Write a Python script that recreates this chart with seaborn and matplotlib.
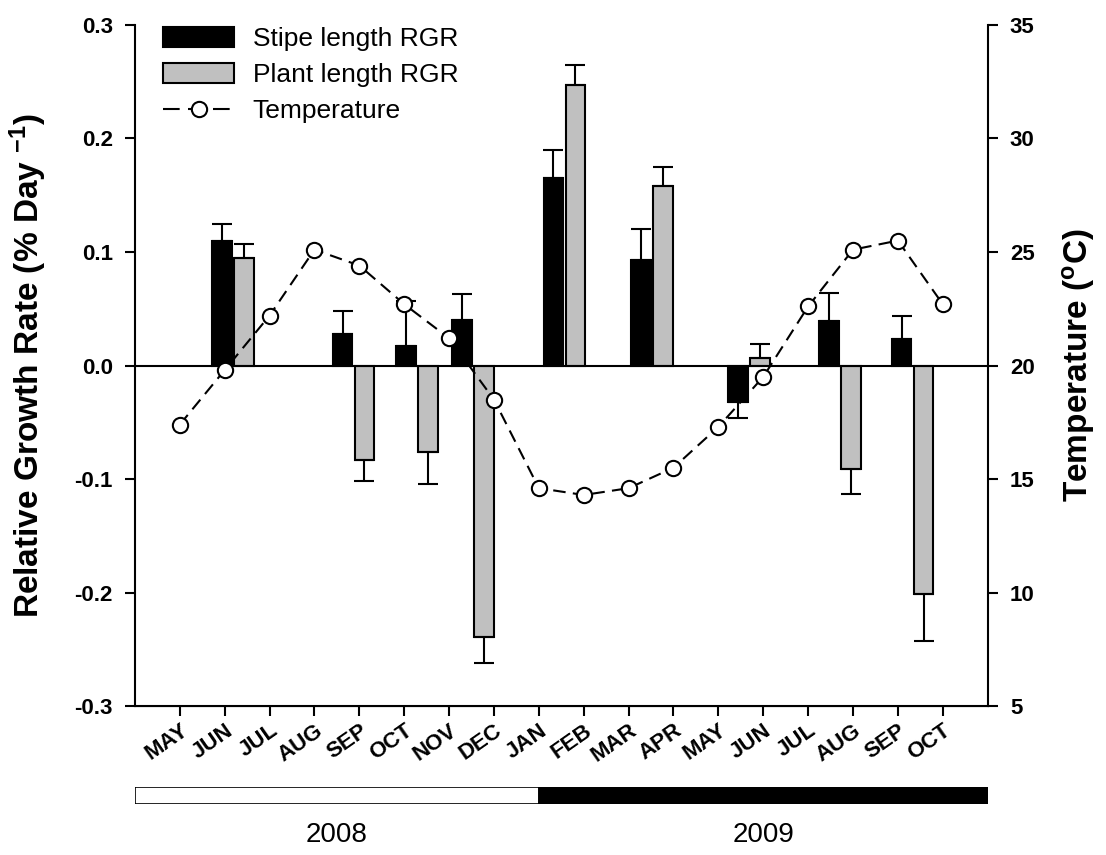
import numpy as np
import pandas as pd
import matplotlib.pyplot as plt
from matplotlib.patches import Patch
from matplotlib.lines import Line2D
import seaborn as sns

months = ['MAY', 'JUN', 'JUL', 'AUG', 'SEP', 'OCT', 'NOV', 'DEC', 'JAN',
          'FEB', 'MAR', 'APR', 'MAY', 'JUN', 'JUL', 'AUG', 'SEP', 'OCT']
temperature = [17.4, 19.8, 22.2, 25.1, 24.4, 22.7, 21.2, 18.5, 14.6,
               14.3, 14.6, 15.5, 17.3, 19.5, 22.6, 25.1, 25.5, 22.7]

# sampling dates, in months after the start of May 2008
sample_month = [1.19, 3.87, 5.29, 6.53, 8.57, 10.52, 12.68, 14.71, 16.33]
stipe_rgr = [0.110, 0.028, 0.017, 0.040, 0.165, 0.093, -0.032, 0.039, 0.023]
stipe_se = [0.015, 0.020, 0.040, 0.023, 0.025, 0.027, 0.014, 0.025, 0.021]
plant_rgr = [0.095, -0.083, -0.076, -0.239, 0.247, 0.158, 0.007, -0.091, -0.201]
plant_se = [0.012, 0.019, 0.028, 0.023, 0.018, 0.017, 0.012, 0.022, 0.042]

years = ['2008', '2009']
series = ['Stipe length RGR', 'Plant length RGR']
colors = ['black', '#c0c0c0']

df = pd.DataFrame({
    'month': sample_month * 2,
    'rgr': stipe_rgr + plant_rgr,
    'series': [series[0]] * len(stipe_rgr) + [series[1]] * len(plant_rgr),
})
temp = pd.DataFrame({'idx': np.arange(len(months)), 'temp': temperature})

sns.set_style('ticks')
plt.rcParams['font.family'] = ['Liberation Sans', 'DejaVu Sans']
plt.rcParams['axes.unicode_minus'] = False
plt.rcParams['mathtext.default'] = 'regular'
for k in ['text.color', 'axes.labelcolor', 'xtick.color', 'ytick.color',
          'axes.edgecolor']:
    plt.rcParams[k] = 'black'

fig = plt.figure(figsize=(11.06, 8.55), dpi=100)
ax = fig.add_axes([0.122, 0.174, 0.771, 0.797])

sns.barplot(data=df, x='month', y='rgr', hue='series', native_scale=True,
            orient='x', palette=colors, saturation=1, edgecolor='black',
            linewidth=1.5, width=0.79, gap=0.11, errorbar=None,
            legend=False, ax=ax)

# one-sided error bars, pointing away from zero
for cont, vals, errs in zip(list(ax.containers), [stipe_rgr, plant_rgr],
                            [stipe_se, plant_se]):
    xs = [b.get_x() + b.get_width() / 2 for b in cont]
    v = np.array(vals)
    e = np.array(errs)
    yerr = [np.where(v < 0, e, 0), np.where(v >= 0, e, 0)]
    ax.errorbar(xs, v, yerr=yerr, fmt='none', ecolor='black',
                elinewidth=1.5, capsize=7.5, capthick=1.5)

ax.axhline(0, color='black', lw=1.5)
ax.set_xlim(-1, 18)
ax.set_ylim(-0.3, 0.3)
ax.set_yticks(np.arange(-0.3, 0.31, 0.1))
ax.set_yticklabels([f'{t:.1f}' for t in np.arange(-0.3, 0.31, 0.1)])
ax.set_xticks(np.arange(len(months)))
ax.set_xticklabels(months, rotation=35, ha='right', rotation_mode='anchor',
                   fontsize=16, fontweight='bold')
ax.set_xlabel('')
ax.set_ylabel('Relative Growth Rate (% Day $^{-1}$)', fontsize=24,
              fontweight='bold', labelpad=18)
ax.tick_params(axis='y', direction='out', length=7, width=1.5,
               labelsize=16, pad=9)
ax.tick_params(axis='x', direction='out', length=7, width=1.5, pad=3)
for lab in ax.get_yticklabels():
    lab.set_fontweight('bold')
ax.spines['top'].set_visible(False)
ax.spines['right'].set_visible(False)
for s in ['left', 'bottom']:
    ax.spines[s].set_linewidth(1.5)

ax2 = ax.twinx()
sns.lineplot(data=temp, x='idx', y='temp', color='black', linestyle=(0, (6, 3.5)),
             lw=1.5, marker='o', markersize=11, markerfacecolor='white',
             markeredgecolor='black', markeredgewidth=1.5, ax=ax2)
ax2.set_xlim(-1, 18)
ax2.set_ylim(5, 35)
ax2.set_yticks(np.arange(5, 36, 5))
ax2.set_ylabel('Temperature ($^{o}$C)', fontsize=24, fontweight='bold',
               labelpad=18)
ax2.set_xlabel('')
ax2.tick_params(axis='y', direction='out', length=7, width=1.5,
                labelsize=16, pad=9)
for lab in ax2.get_yticklabels():
    lab.set_fontweight('bold')
ax2.spines['top'].set_visible(False)
ax2.spines['left'].set_visible(False)
ax2.spines['right'].set_linewidth(1.5)

handles = [Patch(facecolor=colors[0], edgecolor='black', lw=1.5),
           Patch(facecolor=colors[1], edgecolor='black', lw=1.5),
           Line2D([], [], color='black', ls=(0, (8, 4)), lw=1.5, marker='o',
                  markersize=11, markerfacecolor='white',
                  markeredgecolor='black', markeredgewidth=1.5)]
ax2.legend(handles, series + ['Temperature'], loc='upper left',
           bbox_to_anchor=(0.033, 0.997), frameon=False, fontsize=19,
           handlelength=2.7, handleheight=0.8, labelspacing=0.45,
           handletextpad=0.7, borderpad=0, borderaxespad=0)

# year strip below the month labels
ax_year = fig.add_axes([0.122, 1 - 804 / 855, 0.771, 17 / 855])
jan = months.index('JAN')
spans = [(-1, jan), (jan, 18)]
for (a, b), fc, yr in zip(spans, ['white', 'black'], years):
    ax_year.barh(0.5, b - a, left=a, height=1, color=fc, edgecolor='black', lw=1.2)
    ax_year.text((a + b) / 2, -1.8, yr, ha='center', va='center', fontsize=20,
                 transform=ax_year.get_xaxis_transform())
ax_year.set_xlim(-1, 18)
ax_year.set_ylim(0, 1)
ax_year.axis('off')

fig.savefig('out.png', dpi=100)
